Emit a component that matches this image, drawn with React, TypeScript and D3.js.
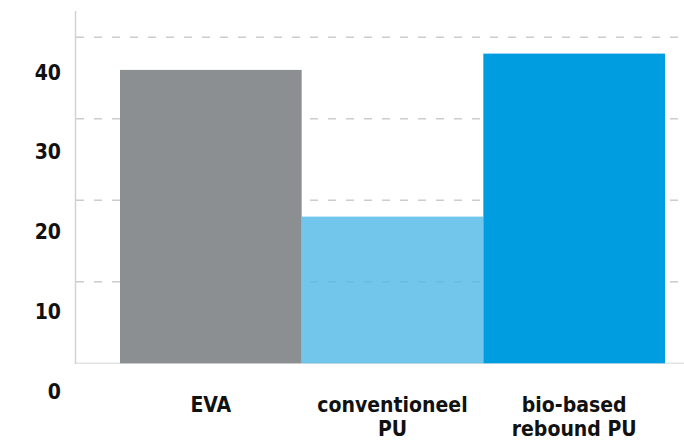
import React from "react";
import * as d3 from "d3";

const categories: string[][] = [["EVA"], ["conventioneel", "PU"], ["bio-based", "rebound PU"]];
const values: number[] = [36, 18, 38];
const barColors: string[] = ["#8b8f92", "#4fb8e6", "#009ee0"];
const barOpacity: number[] = [1, 0.8, 1];
const gridValues: number[] = [10, 20, 30, 40];
const tickLabels: number[] = [0, 10, 20, 30, 40];

const W = 684;
const H = 441;

export default function App() {
  const y = d3.scaleLinear().domain([0, 40]).range([363.3, 37.3]);
  const yLabel = d3.scaleLinear().domain([0, 40]).range([391, 72]);
  const x = d3
    .scaleBand<number>()
    .domain(categories.map((_, i) => i))
    .range([120, 665])
    .padding(0);
  const axisX = 75.5;
  const font = "'DejaVu Sans Condensed', 'DejaVu Sans', sans-serif";

  return (
    <svg
      width={W}
      height={H}
      viewBox={`0 0 ${W} ${H}`}
      style={{ position: "absolute", left: 0, top: 0, background: "#fff" }}
    >
      {/* gridlines */}
      {gridValues.map((v) => (
        <line
          key={v}
          x1={axisX + 0.5}
          x2={W}
          y1={y(v)}
          y2={y(v)}
          stroke="#cccccc"
          strokeWidth={1.5}
          strokeDasharray="8,10"
        />
      ))}
      {/* baseline */}
      <line x1={axisX} x2={W} y1={y(0)} y2={y(0)} stroke="#e3e3e3" strokeWidth={1.5} />
      {/* bars */}
      {values.map((v, i) => (
        <rect
          key={i}
          x={x(i)}
          y={y(v)}
          width={x.bandwidth()}
          height={y(0) - y(v)}
          fill={barColors[i]}
          fillOpacity={barOpacity[i]}
        />
      ))}
      {/* y axis line */}
      <line x1={axisX} x2={axisX} y1={11} y2={y(0) + 0.7} stroke="#d2d2d2" strokeWidth={1.5} />
      {/* tick labels */}
      {tickLabels.map((t) => (
        <text
          key={t}
          x={61}
          y={yLabel(t)}
          dy="0.36em"
          textAnchor="end"
          fontFamily={font}
          fontWeight="bold"
          fontSize={21}
          fill="#111"
        >
          {t}
        </text>
      ))}
      {/* category labels */}
      {categories.map((lines, i) => (
        <text
          key={i}
          x={(x(i) as number) + x.bandwidth() / 2}
          y={412}
          textAnchor="middle"
          fontFamily={font}
          fontWeight="bold"
          fontSize={21}
          fill="#111"
        >
          {lines.map((l, j) => (
            <tspan key={j} x={(x(i) as number) + x.bandwidth() / 2} dy={j === 0 ? 0 : 23.5}>
              {l}
            </tspan>
          ))}
        </text>
      ))}
    </svg>
  );
}
